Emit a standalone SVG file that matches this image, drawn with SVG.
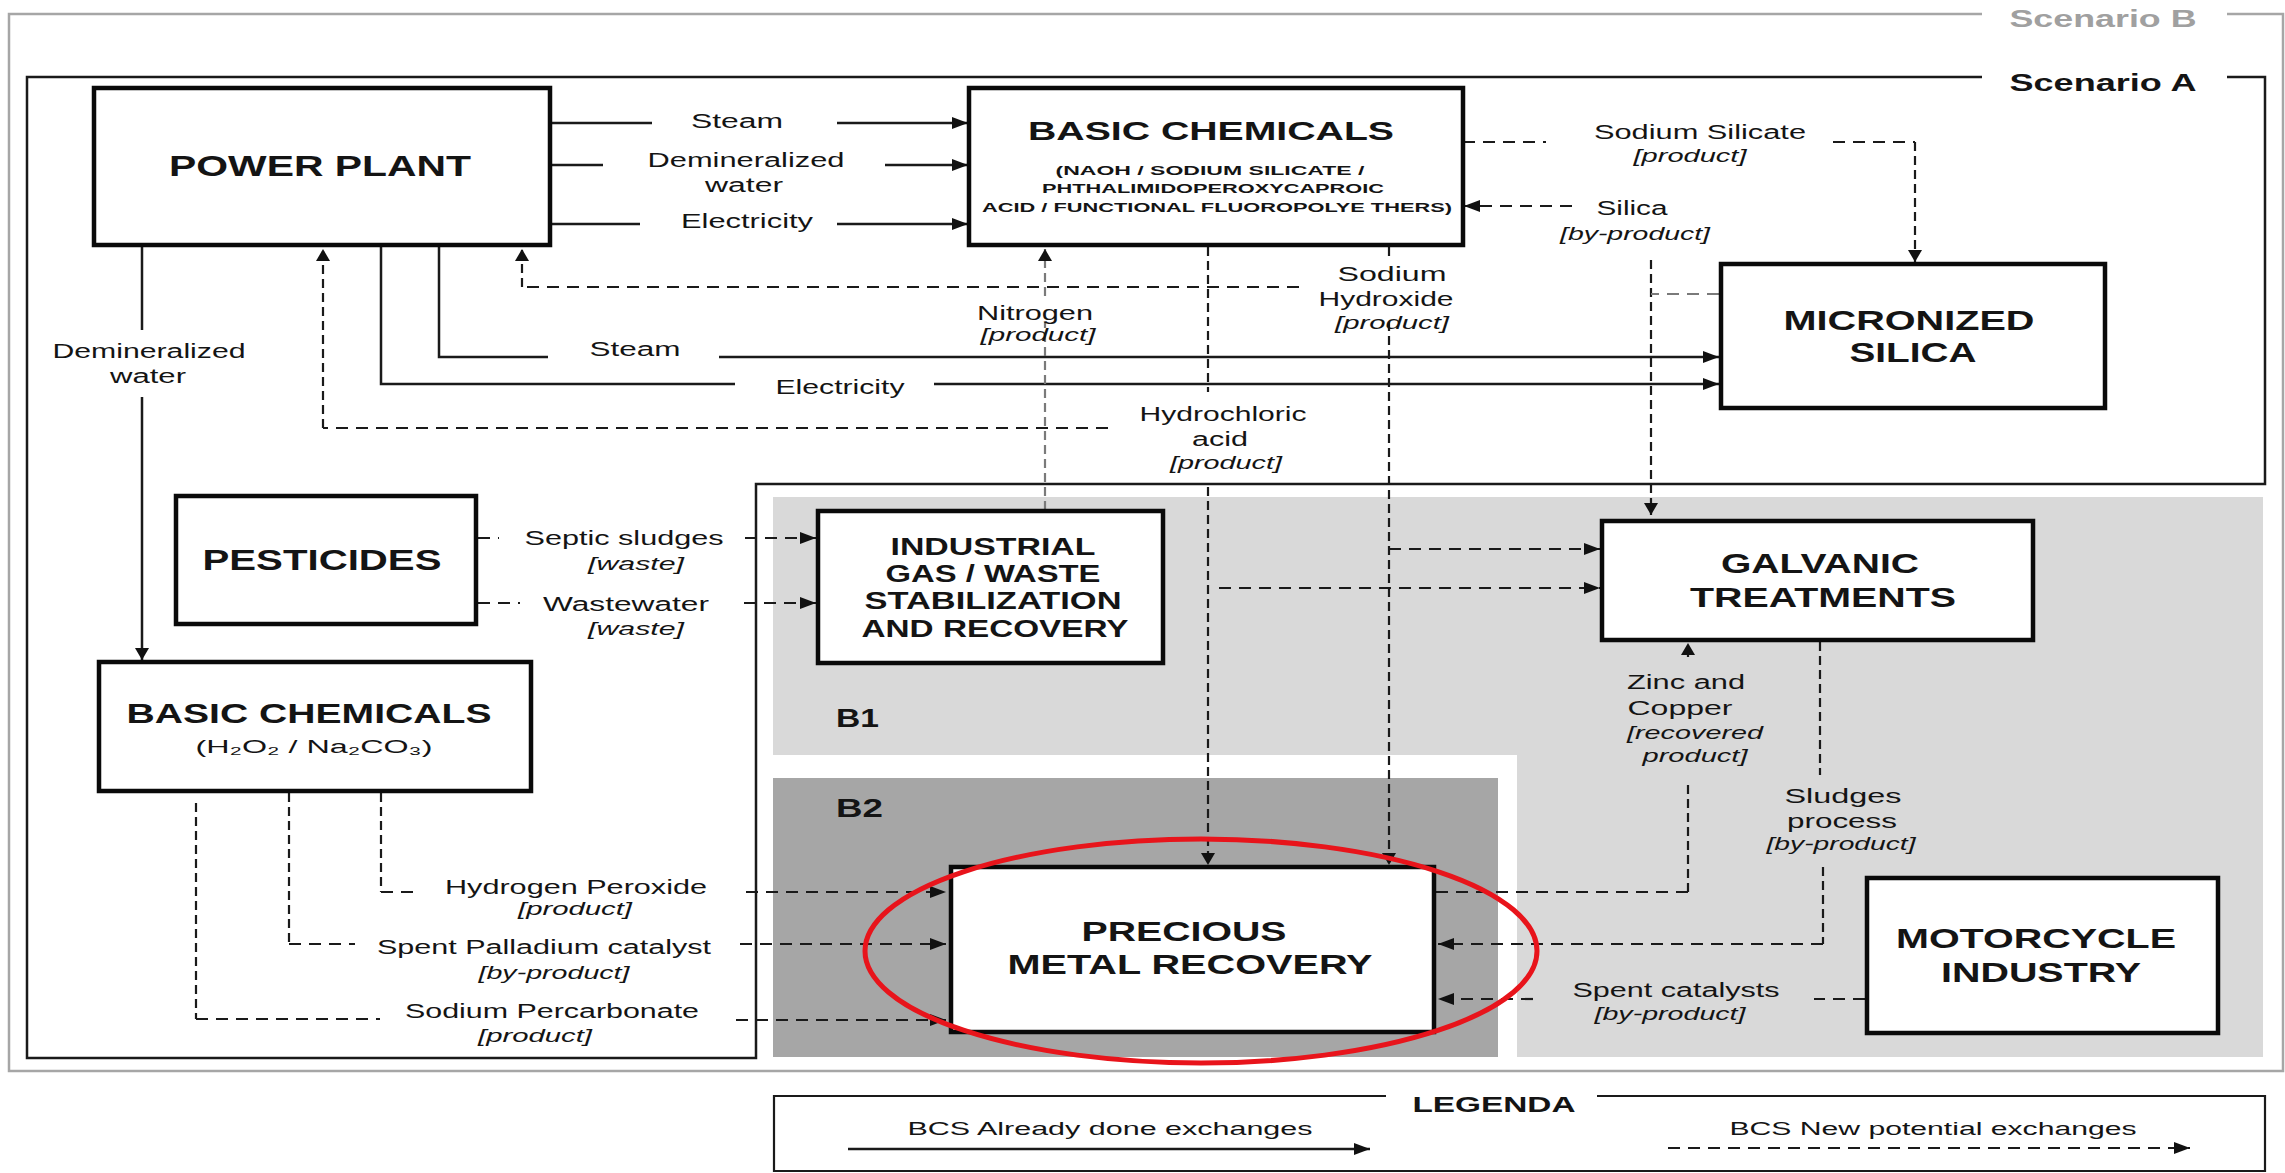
<svg xmlns="http://www.w3.org/2000/svg" width="2285" height="1173" viewBox="0 0 2285 1173">
<defs>
<style>
.t{font-family:"Liberation Sans",Arial,sans-serif;fill:#141414}
.b{font-weight:bold}
.lbl{font-size:20px}
.it{font-size:19px;font-style:italic}
.box{fill:#fff;stroke:#0a0a0a;stroke-width:4.5}
.s{fill:none;stroke:#1a1a1a;stroke-width:2.5}
.dh{fill:none;stroke:#1a1a1a;stroke-width:2.2;stroke-dasharray:12 8}
.dv{fill:none;stroke:#1a1a1a;stroke-width:2.2;stroke-dasharray:9 5}
.gray{stroke:#7a7a7a}
</style>
<marker id="ah" markerUnits="userSpaceOnUse" markerWidth="18" markerHeight="14" refX="16" refY="6" orient="auto"><path d="M0,0 L16,6 L0,12 z" fill="#111"/></marker>
<marker id="av" markerUnits="userSpaceOnUse" markerWidth="14" markerHeight="16" refX="12" refY="7" orient="auto"><path d="M0,0 L12,7 L0,14 z" fill="#111"/></marker>
</defs>
<rect x="0" y="0" width="2285" height="1173" fill="#fff"/>

<g id="regions">
<polygon points="773,497 2263,497 2263,1057 1517,1057 1517,755 773,755" fill="#d9d9d9"/>
<rect x="773" y="778" width="725" height="279" fill="#a6a6a6"/>
<path d="M1982,14 H9 V1071 H2283 V14 H2227" fill="none" stroke="#a6a6a6" stroke-width="2.5"/>
<path d="M1982,77 H27 V1058 H756 V484 H2265 V77 H2227" fill="none" stroke="#1a1a1a" stroke-width="2.5"/>
<text class="t b" x="2103" y="27" font-size="24" text-anchor="middle" textLength="187" lengthAdjust="spacingAndGlyphs" style="fill:#a0a0a0">Scenario B</text>
<text class="t b" x="2103" y="91" font-size="24" text-anchor="middle" textLength="187" lengthAdjust="spacingAndGlyphs">Scenario A</text>
<text class="t b" x="836" y="727" font-size="25" textLength="43" lengthAdjust="spacingAndGlyphs">B1</text>
<text class="t b" x="836" y="817" font-size="25" textLength="47" lengthAdjust="spacingAndGlyphs">B2</text>
</g>

<g id="connectors">
<path class="s" d="M550,123 H652"/><path class="s" d="M837,123 H968" marker-end="url(#ah)"/>
<path class="s" d="M550,165 H603"/><path class="s" d="M885,165 H968" marker-end="url(#ah)"/>
<path class="s" d="M550,224 H640"/><path class="s" d="M837,224 H968" marker-end="url(#ah)"/>
<path class="s" d="M142,245 V330"/><path class="s" d="M142,397 V660" marker-end="url(#av)"/>
<path class="s" d="M439,245 V357 H548"/><path class="s" d="M719,357 H1719" marker-end="url(#ah)"/>
<path class="s" d="M381,245 V384 H735"/><path class="s" d="M934,384 H1719" marker-end="url(#ah)"/>

<path class="dh" d="M1299,287 H522"/><path class="dv" d="M522,287 V249" marker-end="url(#av)"/>
<path class="dh" d="M1108,428 H323"/><path class="dv" d="M323,428 V249" marker-end="url(#av)"/>
<path class="dv gray" d="M1045,510 V322"/><path class="dv gray" d="M1045,296 V249" marker-end="url(#av)"/>
<path class="dv" d="M1208,247 V392"/><path class="dv" d="M1208,487 V865" marker-end="url(#av)"/>
<path class="dh" d="M1219,588 H1600" marker-end="url(#ah)"/>
<path class="dv" d="M1389,247 V258"/><path class="dv" d="M1389,322 V865" marker-end="url(#av)"/>
<path class="dh" d="M1389,549 H1600" marker-end="url(#ah)"/>
<path class="dv" d="M1651,260 V515" marker-end="url(#av)"/>
<path class="dh gray" d="M1719,294 H1651"/>
<path class="dh" d="M1572,206 H1464" marker-end="url(#ah)"/>
<path class="dh" d="M1463,142 H1546"/><path class="dh" d="M1833,142 H1915"/><path class="dv" d="M1915,142 V262" marker-end="url(#av)"/>
<path class="dh" d="M478,538 H499"/><path class="dh" d="M745,538 H816" marker-end="url(#ah)"/>
<path class="dh" d="M478,603 H520"/><path class="dh" d="M744,603 H816" marker-end="url(#ah)"/>
<path class="dv" d="M381,793 V892"/><path class="dh" d="M381,892 H416"/><path class="dh" d="M746,892 H946" marker-end="url(#ah)"/>
<path class="dv" d="M289,793 V944"/><path class="dh" d="M289,944 H355"/><path class="dh" d="M740,944 H946" marker-end="url(#ah)"/>
<path class="dv" d="M196,803 V1019"/><path class="dh" d="M196,1019 H380"/><path class="dh" d="M736,1020 H946" marker-end="url(#ah)"/>
<path class="dh" d="M1436,892 H1688"/><path class="dv" d="M1688,892 V782"/><path class="dv" d="M1688,657 V643" marker-end="url(#av)"/>
<path class="dv" d="M1820,642 V775"/><path class="dv" d="M1823,867 V944"/><path class="dh" d="M1823,944 H1438" marker-end="url(#ah)"/>
<path class="dh" d="M1865,999 H1814"/><path class="dh" d="M1533,999 H1438" marker-end="url(#ah)"/>
</g>

<g id="connector-labels" class="t">
<text class="lbl" x="737" y="128" text-anchor="middle" textLength="92" lengthAdjust="spacingAndGlyphs">Steam</text>
<text class="lbl" x="746" y="167" text-anchor="middle" textLength="197" lengthAdjust="spacingAndGlyphs">Demineralized</text>
<text class="lbl" x="744" y="192" text-anchor="middle" textLength="78" lengthAdjust="spacingAndGlyphs">water</text>
<text class="lbl" x="747" y="228" text-anchor="middle" textLength="132" lengthAdjust="spacingAndGlyphs">Electricity</text>
<text class="lbl" x="149" y="358" text-anchor="middle" textLength="193" lengthAdjust="spacingAndGlyphs">Demineralized</text>
<text class="lbl" x="148" y="383" text-anchor="middle" textLength="76" lengthAdjust="spacingAndGlyphs">water</text>
<text class="lbl" x="635" y="356" text-anchor="middle" textLength="91" lengthAdjust="spacingAndGlyphs">Steam</text>
<text class="lbl" x="840" y="394" text-anchor="middle" textLength="129" lengthAdjust="spacingAndGlyphs">Electricity</text>
<text class="lbl" x="1035" y="320" text-anchor="middle" textLength="116" lengthAdjust="spacingAndGlyphs">Nitrogen</text>
<text class="it" x="1038" y="341" text-anchor="middle" textLength="115" lengthAdjust="spacingAndGlyphs">[product]</text>
<text class="lbl" x="1392" y="281" text-anchor="middle" textLength="109" lengthAdjust="spacingAndGlyphs">Sodium</text>
<text class="lbl" x="1386" y="306" text-anchor="middle" textLength="135" lengthAdjust="spacingAndGlyphs">Hydroxide</text>
<text class="it" x="1392" y="329" text-anchor="middle" textLength="114" lengthAdjust="spacingAndGlyphs">[product]</text>
<text class="lbl" x="1223" y="421" text-anchor="middle" textLength="167" lengthAdjust="spacingAndGlyphs">Hydrochloric</text>
<text class="lbl" x="1220" y="446" text-anchor="middle" textLength="56" lengthAdjust="spacingAndGlyphs">acid</text>
<text class="it" x="1226" y="469" text-anchor="middle" textLength="112" lengthAdjust="spacingAndGlyphs">[product]</text>
<text class="lbl" x="1700" y="139" text-anchor="middle" textLength="212" lengthAdjust="spacingAndGlyphs">Sodium Silicate</text>
<text class="it" x="1690" y="162" text-anchor="middle" textLength="113" lengthAdjust="spacingAndGlyphs">[product]</text>
<text class="lbl" x="1632" y="215" text-anchor="middle" textLength="71" lengthAdjust="spacingAndGlyphs">Silica</text>
<text class="it" x="1635" y="240" text-anchor="middle" textLength="150" lengthAdjust="spacingAndGlyphs">[by-product]</text>
<text class="lbl" x="624" y="545" text-anchor="middle" textLength="199" lengthAdjust="spacingAndGlyphs">Septic sludges</text>
<text class="it" x="636" y="570" text-anchor="middle" textLength="96" lengthAdjust="spacingAndGlyphs">[waste]</text>
<text class="lbl" x="626" y="611" text-anchor="middle" textLength="166" lengthAdjust="spacingAndGlyphs">Wastewater</text>
<text class="it" x="636" y="635" text-anchor="middle" textLength="96" lengthAdjust="spacingAndGlyphs">[waste]</text>
<text class="lbl" x="576" y="894" text-anchor="middle" textLength="262" lengthAdjust="spacingAndGlyphs">Hydrogen Peroxide</text>
<text class="it" x="575" y="915" text-anchor="middle" textLength="114" lengthAdjust="spacingAndGlyphs">[product]</text>
<text class="lbl" x="544" y="954" text-anchor="middle" textLength="334" lengthAdjust="spacingAndGlyphs">Spent Palladium catalyst</text>
<text class="it" x="554" y="979" text-anchor="middle" textLength="151" lengthAdjust="spacingAndGlyphs">[by-product]</text>
<text class="lbl" x="552" y="1018" text-anchor="middle" textLength="294" lengthAdjust="spacingAndGlyphs">Sodium Percarbonate</text>
<text class="it" x="535" y="1042" text-anchor="middle" textLength="114" lengthAdjust="spacingAndGlyphs">[product]</text>
<text class="lbl" x="1686" y="689" text-anchor="middle" textLength="118" lengthAdjust="spacingAndGlyphs">Zinc and</text>
<text class="lbl" x="1680" y="715" text-anchor="middle" textLength="105" lengthAdjust="spacingAndGlyphs">Copper</text>
<text class="it" x="1695" y="739" text-anchor="middle" textLength="136" lengthAdjust="spacingAndGlyphs">[recovered</text>
<text class="it" x="1695" y="762" text-anchor="middle" textLength="105" lengthAdjust="spacingAndGlyphs">product]</text>
<text class="lbl" x="1843" y="803" text-anchor="middle" textLength="117" lengthAdjust="spacingAndGlyphs">Sludges</text>
<text class="lbl" x="1842" y="828" text-anchor="middle" textLength="110" lengthAdjust="spacingAndGlyphs">process</text>
<text class="it" x="1841" y="850" text-anchor="middle" textLength="149" lengthAdjust="spacingAndGlyphs">[by-product]</text>
<text class="lbl" x="1676" y="997" text-anchor="middle" textLength="207" lengthAdjust="spacingAndGlyphs">Spent catalysts</text>
<text class="it" x="1670" y="1020" text-anchor="middle" textLength="151" lengthAdjust="spacingAndGlyphs">[by-product]</text>
</g>

<g id="power-plant">
<rect class="box" x="94" y="88" width="456" height="157"/>
<text class="t b" x="320" y="176" font-size="30" text-anchor="middle" textLength="302" lengthAdjust="spacingAndGlyphs">POWER PLANT</text>
</g>
<g id="basic-chemicals-top">
<rect class="box" x="969" y="88" width="494" height="157"/>
<text class="t b" x="1211" y="140" font-size="26" text-anchor="middle" textLength="366" lengthAdjust="spacingAndGlyphs">BASIC CHEMICALS</text>
<text class="t b" x="1210" y="175" font-size="13" text-anchor="middle" textLength="309" lengthAdjust="spacingAndGlyphs">(NAOH / SODIUM SILICATE /</text>
<text class="t b" x="1213" y="193" font-size="13" text-anchor="middle" textLength="342" lengthAdjust="spacingAndGlyphs">PHTHALIMIDOPEROXYCAPROIC</text>
<text class="t b" x="1217" y="212" font-size="13" text-anchor="middle" textLength="470" lengthAdjust="spacingAndGlyphs">ACID / FUNCTIONAL FLUOROPOLYE THERS)</text>
</g>
<g id="micronized-silica">
<rect class="box" x="1721" y="264" width="384" height="144"/>
<text class="t b" x="1909" y="330" font-size="28" text-anchor="middle" textLength="251" lengthAdjust="spacingAndGlyphs">MICRONIZED</text>
<text class="t b" x="1913" y="362" font-size="28" text-anchor="middle" textLength="127" lengthAdjust="spacingAndGlyphs">SILICA</text>
</g>
<g id="pesticides">
<rect class="box" x="176" y="496" width="300" height="128"/>
<text class="t b" x="322" y="570" font-size="29" text-anchor="middle" textLength="239" lengthAdjust="spacingAndGlyphs">PESTICIDES</text>
</g>
<g id="basic-chemicals-h2o2">
<rect class="box" x="99" y="662" width="432" height="129"/>
<text class="t b" x="309" y="723" font-size="28" text-anchor="middle" textLength="365" lengthAdjust="spacingAndGlyphs">BASIC CHEMICALS</text>
<text class="t" x="314" y="753" font-size="18" text-anchor="middle" textLength="237" lengthAdjust="spacingAndGlyphs">(H₂O₂ / Na₂CO₃)</text>
</g>
<g id="industrial-gas">
<rect class="box" x="818" y="511" width="345" height="152"/>
<text class="t b" x="993" y="555" font-size="23" text-anchor="middle" textLength="205" lengthAdjust="spacingAndGlyphs">INDUSTRIAL</text>
<text class="t b" x="993" y="582" font-size="23" text-anchor="middle" textLength="215" lengthAdjust="spacingAndGlyphs">GAS / WASTE</text>
<text class="t b" x="993" y="609" font-size="23" text-anchor="middle" textLength="257" lengthAdjust="spacingAndGlyphs">STABILIZATION</text>
<text class="t b" x="995" y="637" font-size="23" text-anchor="middle" textLength="267" lengthAdjust="spacingAndGlyphs">AND RECOVERY</text>
</g>
<g id="galvanic-treatments">
<rect class="box" x="1602" y="521" width="431" height="119"/>
<text class="t b" x="1820" y="573" font-size="27" text-anchor="middle" textLength="198" lengthAdjust="spacingAndGlyphs">GALVANIC</text>
<text class="t b" x="1823" y="607" font-size="27" text-anchor="middle" textLength="266" lengthAdjust="spacingAndGlyphs">TREATMENTS</text>
</g>
<g id="precious-metal-recovery">
<rect class="box" x="951" y="867" width="483" height="165"/>
<text class="t b" x="1184" y="941" font-size="27" text-anchor="middle" textLength="205" lengthAdjust="spacingAndGlyphs">PRECIOUS</text>
<text class="t b" x="1190" y="974" font-size="27" text-anchor="middle" textLength="365" lengthAdjust="spacingAndGlyphs">METAL RECOVERY</text>
</g>
<g id="motorcycle-industry">
<rect class="box" x="1867" y="878" width="351" height="155"/>
<text class="t b" x="2036" y="948" font-size="28" text-anchor="middle" textLength="280" lengthAdjust="spacingAndGlyphs">MOTORCYCLE</text>
<text class="t b" x="2041" y="982" font-size="28" text-anchor="middle" textLength="200" lengthAdjust="spacingAndGlyphs">INDUSTRY</text>
</g>

<g id="highlight">
<ellipse cx="1201" cy="951" rx="336" ry="112" fill="none" stroke="#e8141b" stroke-width="5"/>
</g>

<g id="legend">
<path d="M1386,1096 H774 V1171 H2265 V1096 H1597" fill="none" stroke="#1a1a1a" stroke-width="2.2"/>
<text class="t b" x="1494" y="1112" font-size="22" text-anchor="middle" textLength="163" lengthAdjust="spacingAndGlyphs">LEGENDA</text>
<text class="t" x="1110" y="1135" font-size="18" text-anchor="middle" textLength="405" lengthAdjust="spacingAndGlyphs">BCS Already done exchanges</text>
<path class="s" d="M848,1149 H1370" marker-end="url(#ah)"/>
<text class="t" x="1933" y="1135" font-size="18" text-anchor="middle" textLength="407" lengthAdjust="spacingAndGlyphs">BCS New potential exchanges</text>
<path class="dh" d="M1668,1148 H2190" marker-end="url(#ah)"/>
</g>
</svg>
